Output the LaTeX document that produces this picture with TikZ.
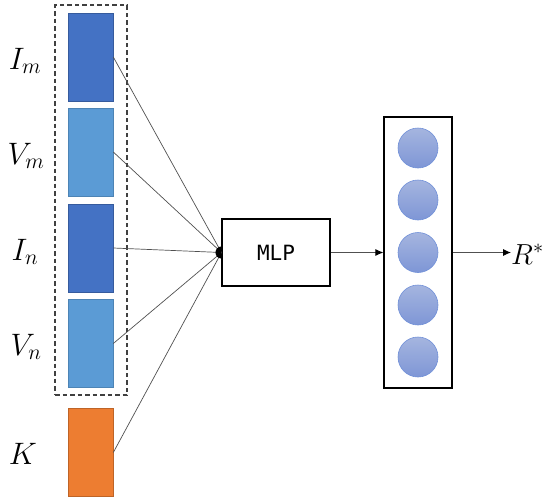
\documentclass[tikz,border=0pt]{standalone}
\usepackage{fix-cm}
\usepackage{fontspec}
\newfontfamily\monofont{DejaVu Sans Mono}
\usetikzlibrary{arrows.meta}
\definecolor{darkblue}{HTML}{4472C4}
\definecolor{lightblue}{HTML}{5B9BD5}
\definecolor{orangebar}{HTML}{ED7D31}
\definecolor{circtop}{HTML}{A5B5DF}
\definecolor{circbot}{HTML}{7E96D6}
\definecolor{circedge}{HTML}{7090D8}
\definecolor{linegray}{HTML}{505050}
\begin{document}
\begin{tikzpicture}[x=1pt,y=-1pt,
  bar/.style={rectangle,minimum width=45pt,minimum height=88pt,inner sep=0pt,line width=0.6pt},
  lab/.style={anchor=base,inner sep=0pt,font=\fontsize{31}{33}\selectfont},
  conn/.style={draw=linegray,line width=0.7pt},
  neuron/.style={circle,minimum size=40pt,inner sep=0pt,draw=circedge,line width=0.6pt,top color=circtop,bottom color=circbot},
  arr/.style={draw=linegray,line width=0.9pt,-{Latex[length=8pt,width=7pt,color=black]}}]
\useasboundingbox (0,0) rectangle (543,498);
% dashed group
\node[draw=black!75,dash pattern=on 4.5pt off 3pt,line width=1.4pt,rectangle,minimum width=72pt,minimum height=390pt,inner sep=0pt] (grp) at (91,200) {};
% bars
\node[bar,fill=darkblue,draw=darkblue!80!black] (Im) at (90.5,57) {};
\node[bar,fill=lightblue,draw=lightblue!85!black] (Vm) at (90.5,152) {};
\node[bar,fill=darkblue,draw=darkblue!80!black] (In) at (90.5,248) {};
\node[bar,fill=lightblue,draw=lightblue!85!black] (Vn) at (90.5,343.5) {};
\node[bar,fill=orangebar,draw=orangebar!80!black] (K) at (90.5,452.5) {};
% labels
\node[lab] (lIm) at (25,69) {$I_m$};
\node[lab] (lVm) at (26,164) {$V_m$};
\node[lab] (lIn) at (25,260) {$I_n$};
\node[lab] (lVn) at (26,355) {$V_n$};
\node[lab] (lK) at (23,464) {$K$};
% MLP
\node[draw=black,line width=1.1pt,rectangle,minimum width=108pt,minimum height=67pt,inner sep=0pt,font=\monofont\fontsize{21}{23}\selectfont] (mlp) at (276,252.5) {MLP};
\coordinate (conv) at (mlp.west);
% converging lines
\foreach \b in {Im,Vm,In,Vn,K}{
  \draw[conn] (\b.east) -- (conv);
}
\fill[black] ([yshift=-6pt]conv) arc (90:270:6) -- cycle;
% neuron column
\node[draw=black,line width=1.1pt,rectangle,minimum width=68pt,minimum height=271pt,inner sep=0pt] (col) at (418,252.5) {};
\node[neuron] (n1) at (418,148) {};
\node[neuron] (n2) at (418,200) {};
\node[neuron] (n3) at (418,252.5) {};
\node[neuron] (n4) at (418,305) {};
\node[neuron] (n5) at (418,357) {};
% arrows
\draw[arr] (mlp.east) -- (col.west);
\node[anchor=base west,inner sep=0pt,font=\fontsize{29}{31}\selectfont] (R) at (511,264) {$R^*$};
\draw[arr] (col.east) -- (R.west |- col.east);
\end{tikzpicture}
\end{document}
